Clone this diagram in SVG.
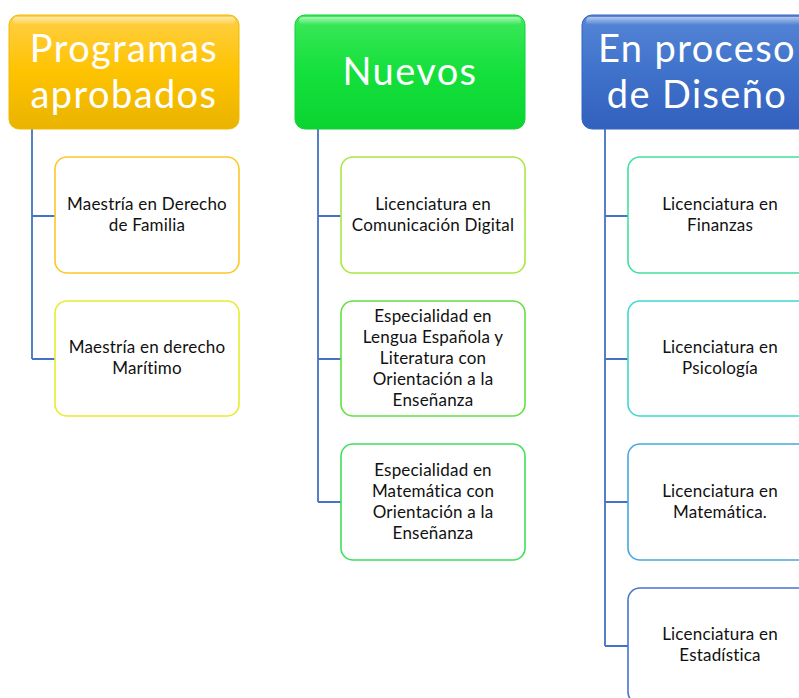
<svg xmlns="http://www.w3.org/2000/svg" width="799" height="698" viewBox="0 0 799 698">
<defs>
<linearGradient id="gGold" x1="0" y1="0" x2="0" y2="1"><stop offset="0" stop-color="#FFCF45"/><stop offset="0.5" stop-color="#FEC300"/><stop offset="1" stop-color="#E9B300"/></linearGradient>
<linearGradient id="gGreen" x1="0" y1="0" x2="0" y2="1"><stop offset="0" stop-color="#3DE85A"/><stop offset="0.5" stop-color="#14E03C"/><stop offset="1" stop-color="#0BD431"/></linearGradient>
<linearGradient id="gBlue" x1="0" y1="0" x2="0" y2="1"><stop offset="0" stop-color="#5585D6"/><stop offset="0.5" stop-color="#3F72CB"/><stop offset="1" stop-color="#3260BD"/></linearGradient>
<linearGradient id="gShine" x1="0" y1="0" x2="0" y2="1"><stop offset="0" stop-color="#FFFFFF" stop-opacity="0.55"/><stop offset="1" stop-color="#FFFFFF" stop-opacity="0"/></linearGradient>
</defs>
<style>
.hdr text{font-family:Lato,"Noto Sans",sans-serif;font-size:38px;letter-spacing:1.4px;fill:#FFFFFF;text-anchor:middle}
.box rect{fill:#FFFFFF;stroke-width:1.6}
.box text{font-family:Lato,"Noto Sans",sans-serif;font-size:17px;letter-spacing:0.2px;fill:#111111;text-anchor:middle}
.conn path{fill:none;stroke:#4472C4;stroke-width:1.8}
.shine{fill:url(#gShine)}
</style>
<rect width="799" height="698" fill="#FFFFFF"/>
<g class="conn" id="connectors">
<path d="M32 129 V359 M32 216 H55 M32 359 H55"/>
<path d="M318 129 V502 M318 216 H341 M318 359 H341 M318 502 H341"/>
<path d="M605 129 V646 M605 216 H628 M605 359 H628 M605 502 H628 M605 646 H628"/>
</g>
<g class="hdr" id="hdr-aprobados">
<rect x="9" y="15" width="230" height="114" rx="10" fill="url(#gGold)" stroke="#F0B800" stroke-width="1"/>
<rect x="13" y="17" width="222" height="8" rx="4" class="shine"/>
<text x="124" y="62">Programas</text>
<text x="124" y="108">aprobados</text>
</g>
<g class="hdr" id="hdr-nuevos">
<rect x="295" y="15" width="230" height="114" rx="10" fill="url(#gGreen)" stroke="#10D038" stroke-width="1"/>
<rect x="299" y="17" width="222" height="8" rx="4" class="shine"/>
<text x="410" y="85">Nuevos</text>
</g>
<g class="hdr" id="hdr-diseno">
<rect x="582" y="15" width="230" height="114" rx="10" fill="url(#gBlue)" stroke="#3565C0" stroke-width="1"/>
<rect x="586" y="17" width="222" height="8" rx="4" class="shine"/>
<text x="697" y="62">En proceso</text>
<text x="697" y="108">de Diseño</text>
</g>
<g class="box" id="n-familia">
<rect x="55" y="157" width="184" height="116" rx="12" stroke="#FFC629"/>
<text x="147" y="210">Maestría en Derecho</text>
<text x="147" y="231">de Familia</text>
</g>
<g class="box" id="n-maritimo">
<rect x="55" y="301" width="184" height="115" rx="12" stroke="#E6EC30"/>
<text x="147" y="353">Maestría en derecho</text>
<text x="147" y="374">Marítimo</text>
</g>
<g class="box" id="n-comunicacion">
<rect x="341" y="157" width="184" height="116" rx="12" stroke="#A8E845"/>
<text x="433" y="210">Licenciatura en</text>
<text x="433" y="231">Comunicación Digital</text>
</g>
<g class="box" id="n-lengua">
<rect x="341" y="301" width="184" height="115" rx="12" stroke="#62E040"/>
<text x="433" y="322">Especialidad en</text>
<text x="433" y="343">Lengua Española y</text>
<text x="433" y="364">Literatura con</text>
<text x="433" y="385">Orientación a la</text>
<text x="433" y="406">Enseñanza</text>
</g>
<g class="box" id="n-matematica-esp">
<rect x="341" y="444" width="184" height="116" rx="12" stroke="#3EE05A"/>
<text x="433" y="476">Especialidad en</text>
<text x="433" y="497">Matemática con</text>
<text x="433" y="518">Orientación a la</text>
<text x="433" y="539">Enseñanza</text>
</g>
<g class="box" id="n-finanzas">
<rect x="628" y="157" width="184" height="116" rx="12" stroke="#40E0A0"/>
<text x="720" y="210">Licenciatura en</text>
<text x="720" y="231">Finanzas</text>
</g>
<g class="box" id="n-psicologia">
<rect x="628" y="301" width="184" height="115" rx="12" stroke="#40D8D0"/>
<text x="720" y="353">Licenciatura en</text>
<text x="720" y="374">Psicología</text>
</g>
<g class="box" id="n-matematica">
<rect x="628" y="444" width="184" height="116" rx="12" stroke="#45A8E0"/>
<text x="720" y="497">Licenciatura en</text>
<text x="720" y="518">Matemática.</text>
</g>
<g class="box" id="n-estadistica">
<rect x="628" y="588" width="184" height="116" rx="12" stroke="#4575D0"/>
<text x="720" y="640">Licenciatura en</text>
<text x="720" y="661">Estadística</text>
</g>
</svg>
